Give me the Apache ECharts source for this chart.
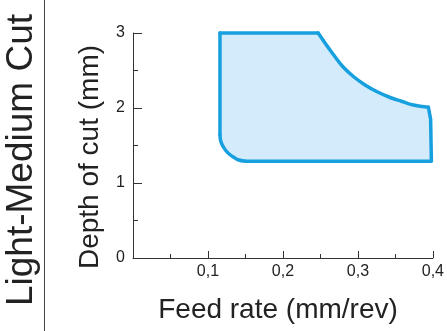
<!DOCTYPE html>
<html>
<head>
<meta charset="utf-8">
<script src="https://cdn.jsdelivr.net/npm/echarts@6/dist/echarts.min.js"></script>
<style>
  html, body { margin: 0; padding: 0; background: #fff; }
  #chart { width: 447px; height: 331px; }
</style>
</head>
<body>
<div id="chart"></div>
<script>
// Boundary of the recommended cutting region (feed rate, depth of cut), traced clockwise
const boundaryX = [0.116, 0.247, 0.258, 0.269, 0.280, 0.294, 0.309, 0.325, 0.343, 0.358, 0.374, 0.394, 0.397, 0.398,
                   0.150, 0.140, 0.135, 0.129, 0.124, 0.120, 0.117, 0.116];
const boundaryY = [3.00, 3.00, 2.84, 2.69, 2.55, 2.42, 2.31, 2.22, 2.14, 2.09, 2.04, 2.01, 1.85, 1.29,
                   1.29, 1.31, 1.34, 1.38, 1.43, 1.49, 1.56, 1.64];
// index ranges of the boundary that are curved (drawn smoothed)
const curveUpperRight = [1, 11];
const curveLowerLeft = [14, 21];
const xTicks = [0, 0.1, 0.2, 0.3, 0.4];
const yTicks = [0, 1, 2, 3];
const xTitle = 'Feed rate (mm/rev)';
const yTitle = 'Depth of cut (mm)';
const sideTitle = 'Light-Medium Cut';

const FONT = '"Liberation Sans", Arial, sans-serif';
const chart = echarts.init(document.getElementById('chart'), null, { renderer: 'canvas' });

const STROKE = '#17a0df';
const FILL = '#d3ebfa';

chart.setOption({
  animation: false,
  backgroundColor: '#ffffff',
  grid: { left: 133, top: 33, right: 14, bottom: 73, containLabel: false },
  xAxis: {
    type: 'value',
    min: xTicks[0], max: xTicks[xTicks.length - 1], interval: 0.1,
    axisLine: { show: true, onZero: false, lineStyle: { color: '#333', width: 1 } },
    axisTick: { show: true, inside: true, length: 7, lineStyle: { color: '#333', width: 1 } },
    minorTick: { show: true, splitNumber: 2, length: 4, lineStyle: { color: '#333', width: 1 } },
    splitLine: { show: false },
    axisLabel: {
      margin: 6, color: '#222', fontFamily: FONT, fontSize: 16,
      formatter: v => (v === 0 ? '' : (+v).toFixed(1).replace('.', ','))
    }
  },
  yAxis: {
    type: 'value',
    min: yTicks[0], max: yTicks[yTicks.length - 1], interval: 1,
    axisLine: { show: true, onZero: false, lineStyle: { color: '#333', width: 1 } },
    axisTick: { show: true, inside: true, length: 9, lineStyle: { color: '#333', width: 1 } },
    minorTick: { show: true, splitNumber: 2, length: 5, lineStyle: { color: '#333', width: 1 } },
    splitLine: { show: false },
    axisLabel: { margin: 8, color: '#222', fontFamily: FONT, fontSize: 16 }
  },
  graphic: [
    { type: 'line', shape: { x1: 44.5, y1: 0, x2: 44.5, y2: 331 }, style: { stroke: '#444', lineWidth: 1 } },
    { type: 'text', x: 22, y: 160, rotation: Math.PI / 2,
      style: { text: sideTitle, fill: '#222', font: '37px ' + FONT, textAlign: 'center', textVerticalAlign: 'middle' } },
    { type: 'text', x: 90, y: 157, rotation: Math.PI / 2,
      style: { text: yTitle, fill: '#222', font: '28px ' + FONT, textAlign: 'center', textVerticalAlign: 'middle' } },
    { type: 'text', x: 278, y: 310,
      style: { text: xTitle, fill: '#222', font: '28px ' + FONT, textAlign: 'center', textVerticalAlign: 'middle' } }
  ],
  series: [{
    type: 'custom',
    coordinateSystem: 'cartesian2d',
    data: [[boundaryX[0], boundaryY[0]]],
    renderItem: function (params, api) {
      const pts = boundaryX.map((x, i) => api.coord([x, boundaryY[i]]));
      const n = pts.length;
      const seg = (a, b) => pts.slice(a, b + 1);
      const lineStyle = { fill: null, stroke: STROKE, lineWidth: 3.5, lineJoin: 'round', lineCap: 'round' };
      return {
        type: 'group',
        children: [
          { type: 'polygon', shape: { points: pts }, style: { fill: FILL } },
          // top edge
          { type: 'polyline', shape: { points: seg(0, curveUpperRight[0]) }, style: lineStyle },
          // upper-right curve
          { type: 'polyline', shape: { points: seg(curveUpperRight[0], curveUpperRight[1]), smooth: 0.4 }, style: lineStyle },
          // right edge and bottom edge
          { type: 'polyline', shape: { points: seg(curveUpperRight[1], curveLowerLeft[0]) }, style: lineStyle },
          // lower-left rounded corner
          { type: 'polyline', shape: { points: seg(curveLowerLeft[0], curveLowerLeft[1]), smooth: 0.4 }, style: lineStyle },
          // left edge closing back to the start
          { type: 'polyline', shape: { points: [pts[n - 1], pts[0]] }, style: lineStyle }
        ]
      };
    }
  }]
});
</script>
</body>
</html>
